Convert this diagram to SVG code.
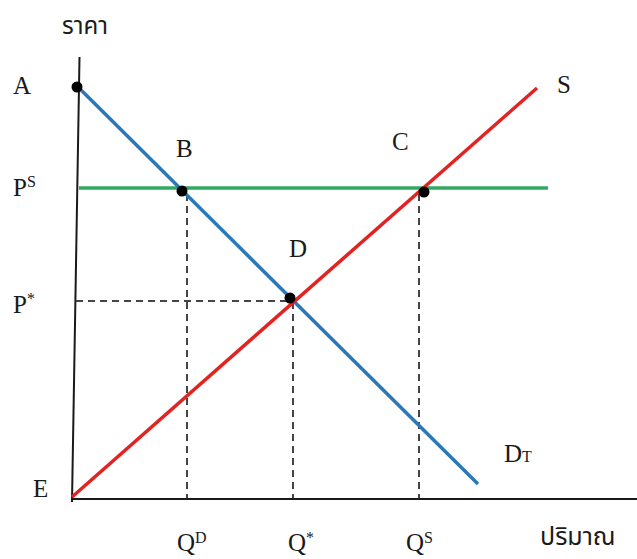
<svg xmlns="http://www.w3.org/2000/svg" width="637" height="559" viewBox="0 0 637 559">
<style>
.lbl{font-family:"Liberation Serif","DejaVu Serif",serif;font-size:25px;fill:#1a1a1a}
.sup{font-size:16px}
.th{font-family:"Noto Sans Thai","Noto Sans","DejaVu Sans",sans-serif;font-size:24px;fill:#1a1a1a}
.axis{stroke:#1a1a1a;stroke-width:2;fill:none}
.dash{stroke:#444;stroke-width:2;stroke-dasharray:7 5;fill:none}
.demand{stroke:#2b78b8;stroke-width:3.5;fill:none}
.supply{stroke:#e32222;stroke-width:3.5;fill:none}
.price{stroke:#33a862;stroke-width:3.5;fill:none}
.dot{fill:#000}
</style>
<rect width="637" height="559" fill="#fff"/>
<g id="connectors">
<line class="axis" x1="79.5" y1="57" x2="72" y2="502"/>
<line class="axis" x1="72" y1="499" x2="637" y2="499"/>
<line class="dash" x1="187" y1="194" x2="187" y2="498"/>
<line class="dash" x1="293" y1="302" x2="293" y2="498"/>
<line class="dash" x1="419" y1="194" x2="419" y2="498"/>
<line class="dash" x1="76" y1="301" x2="290" y2="301"/>
<line class="price" x1="79" y1="188" x2="548" y2="188"/>
<line class="demand" x1="78" y1="87" x2="478" y2="484"/>
<line class="supply" x1="72" y1="497" x2="537" y2="88"/>
</g>
<g id="axis-labels">
<text class="th" x="62" y="34">ราคา</text>
<text class="th" x="540" y="545" style="font-size:25px">ปริมาณ</text>
</g>
<g id="node-A"><circle class="dot" cx="77" cy="87" r="5.5"/><text class="lbl" x="13" y="94">A</text></g>
<g id="node-B"><circle class="dot" cx="182" cy="191" r="5.5"/><text class="lbl" x="176" y="157">B</text></g>
<g id="node-C"><circle class="dot" cx="424" cy="192" r="5.5"/><text class="lbl" x="392" y="150">C</text></g>
<g id="node-D"><circle class="dot" cx="290" cy="298" r="5.5"/><text class="lbl" x="289" y="257">D</text></g>
<g id="node-E"><text class="lbl" x="33" y="497">E</text></g>
<g id="label-S"><text class="lbl" x="557" y="93">S</text></g>
<g id="label-DT"><text class="lbl" x="504" y="462">D<tspan class="sup">T</tspan></text></g>
<g id="label-PS"><text class="lbl" x="13" y="196">P<tspan class="sup" dy="-9">S</tspan></text></g>
<g id="label-Pstar"><text class="lbl" x="13" y="313">P<tspan class="sup" dy="-9">*</tspan></text></g>
<g id="label-QD"><text class="lbl" x="177" y="551">Q<tspan class="sup" dy="-8">D</tspan></text></g>
<g id="label-Qstar"><text class="lbl" x="288" y="551">Q<tspan class="sup" dy="-8">*</tspan></text></g>
<g id="label-QS"><text class="lbl" x="406" y="551">Q<tspan class="sup" dy="-8">S</tspan></text></g>
</svg>
